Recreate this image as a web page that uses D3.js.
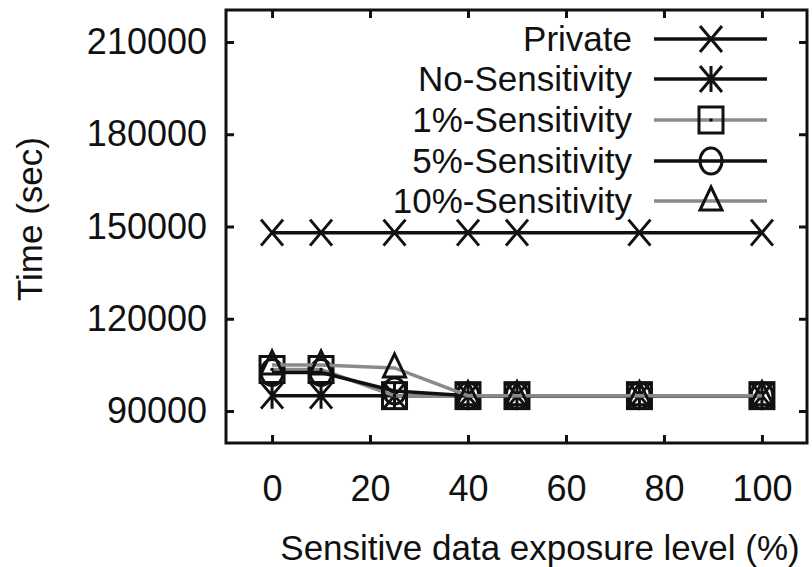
<!DOCTYPE html>
<html>
<head>
<meta charset="utf-8">
<script src="https://cdn.jsdelivr.net/npm/d3@7"></script>
<style>
  html, body { margin: 0; padding: 0; background: #fff; }
  svg { display: block; }
  text { font-family: "Liberation Sans", Arial, sans-serif; fill: #111; }
</style>
</head>
<body>
<svg id="chart" width="812" height="567"></svg>
<script>
// ---- data ----
const exposure = [0, 10, 25, 40, 50, 75, 100];
const privateTime = [148000, 148000, 148000, 148000, 148000, 148000, 148000];
const noSensitivity = [95000, 95000, 95000, 95000, 95000, 95000, 95000];
const sens1 = [103500, 103500, 95000, 95000, 95000, 95000, 95000];
const sens5 = [102500, 102500, 96500, 95000, 95000, 95000, 95000];
const sens10 = [105000, 105000, 104000, 95000, 95000, 95000, 95000];
const seriesNames = ["Private", "No-Sensitivity", "1%-Sensitivity", "5%-Sensitivity", "10%-Sensitivity"];
const xTicks = [0, 20, 40, 60, 80, 100];
const yTicks = [90000, 120000, 150000, 180000, 210000];

const seriesValues = [privateTime, noSensitivity, sens1, sens5, sens10];
const seriesColor = ["#111", "#111", "#8a8a8a", "#111", "#8a8a8a"];
const seriesMarker = ["x", "star", "square", "circle", "triangle"];

const svg = d3.select("#chart");
const L = 226, R = 807, T = 10, B = 443;
const x = d3.scaleLinear().domain([-9.4, 109.2]).range([L, R]);
const y = d3.scaleLinear().domain([79600, 220400]).range([B, T]);

// axes (inward ticks, mirrored)
const fontSize = 36;
const gx = svg.append("g").attr("transform", `translate(0,${B})`)
  .call(d3.axisBottom(x).tickValues(xTicks).tickFormat(d3.format("d")).tickSizeInner(-8).tickSizeOuter(0).tickPadding(32));
const gy = svg.append("g").attr("transform", `translate(${L},0)`)
  .call(d3.axisLeft(y).tickValues(yTicks).tickFormat(d3.format("d")).tickSizeInner(-8).tickSizeOuter(0).tickPadding(19));
const gxt = svg.append("g").attr("transform", `translate(0,${T})`)
  .call(d3.axisTop(x).tickValues(xTicks).tickSizeInner(-8).tickSizeOuter(0).tickFormat(""));
const gyr = svg.append("g").attr("transform", `translate(${R},0)`)
  .call(d3.axisRight(y).tickValues(yTicks).tickSizeInner(-8).tickSizeOuter(0).tickFormat(""));
[gx, gy, gxt, gyr].forEach(g => {
  g.select(".domain").remove();
  g.selectAll(".tick line").attr("stroke", "#111").attr("stroke-width", 3);
  g.selectAll(".tick text").attr("font-size", fontSize).attr("fill", "#111")
    .attr("font-family", "Liberation Sans, Arial, sans-serif");
});

// frame
svg.append("rect").attr("x", L).attr("y", T).attr("width", R - L).attr("height", B - T)
  .attr("fill", "none").attr("stroke", "#111").attr("stroke-width", 3);

// axis titles
svg.append("text").attr("x", 540).attr("y", 560).attr("text-anchor", "middle")
  .attr("font-size", 35).text("Sensitive data exposure level (%)");
svg.append("text").attr("transform", "translate(42,219) rotate(-90)").attr("text-anchor", "middle")
  .attr("font-size", 35).text("Time (sec)");

// marker drawer
function drawMarker(g, type, cx, cy, color) {
  const sw = 3;
  if (type === "x") {
    const a = 11, b = 13;
    g.append("path").attr("d", `M${cx - a},${cy - b}L${cx + a},${cy + b}M${cx - a},${cy + b}L${cx + a},${cy - b}`)
      .attr("stroke", color).attr("stroke-width", sw).attr("fill", "none");
  } else if (type === "star") {
    const a = 11, b = 13;
    g.append("path").attr("d", `M${cx - a},${cy - b}L${cx + a},${cy + b}M${cx - a},${cy + b}L${cx + a},${cy - b}M${cx},${cy - b}L${cx},${cy + b}`)
      .attr("stroke", color).attr("stroke-width", sw).attr("fill", "none");
  } else if (type === "square") {
    g.append("rect").attr("x", cx - 12).attr("y", cy - 13).attr("width", 24).attr("height", 26)
      .attr("stroke", "#111").attr("stroke-width", sw).attr("fill", "none");
    g.append("circle").attr("cx", cx).attr("cy", cy).attr("r", 1.8).attr("fill", "#111");
  } else if (type === "circle") {
    g.append("ellipse").attr("cx", cx).attr("cy", cy).attr("rx", 11).attr("ry", 13)
      .attr("stroke", color).attr("stroke-width", sw).attr("fill", "none");
  } else if (type === "triangle") {
    g.append("path").attr("d", `M${cx},${cy - 14}L${cx + 11},${cy + 9}L${cx - 11},${cy + 9}Z`)
      .attr("stroke", "#111").attr("stroke-width", sw).attr("fill", "none");
  }
}

// series
const line = d3.line().x(d => x(d[0])).y(d => y(d[1]));
seriesValues.forEach((vals, i) => {
  const pts = exposure.map((e, j) => [e, vals[j]]);
  const g = svg.append("g");
  g.append("path").datum(pts).attr("d", line).attr("fill", "none")
    .attr("stroke", seriesColor[i]).attr("stroke-width", 3.5);
  pts.forEach(p => drawMarker(g, seriesMarker[i], x(p[0]), y(p[1]), "#111"));
});

// legend
const legendY = [39, 79, 120, 161, 201];
seriesNames.forEach((name, i) => {
  const g = svg.append("g");
  g.append("text").attr("x", 632).attr("y", legendY[i] + 12).attr("text-anchor", "end")
    .attr("font-size", 35).text(name);
  g.append("line").attr("x1", 654).attr("x2", 767).attr("y1", legendY[i]).attr("y2", legendY[i])
    .attr("stroke", seriesColor[i]).attr("stroke-width", 3.5);
  drawMarker(g, seriesMarker[i], 711, legendY[i], "#111");
});
</script>
</body>
</html>
